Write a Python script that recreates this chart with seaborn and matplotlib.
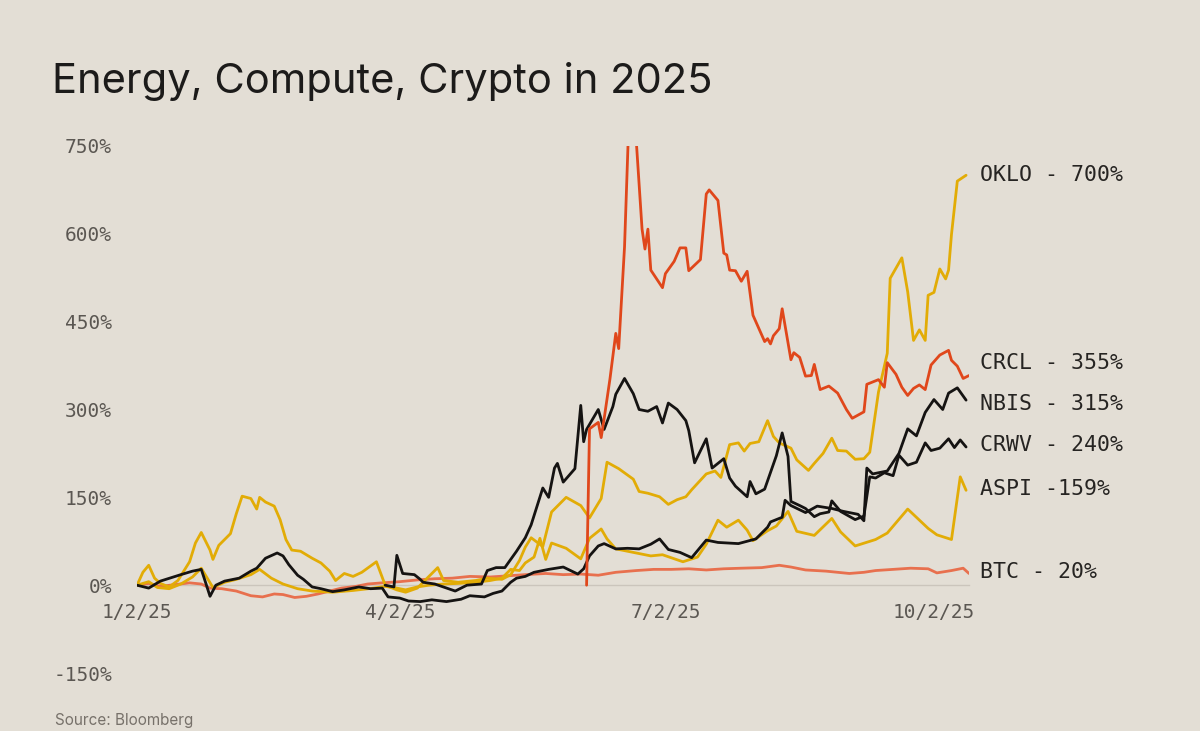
import matplotlib
matplotlib.use('Agg')
import matplotlib.pyplot as plt
import matplotlib.ticker as mticker
import matplotlib.transforms as mtransforms
import pandas as pd
import seaborn as sns

# ── Data (% change) ───────────────────────────────────────────────────────────
oklo_dates = ['01-02', '01-04', '01-06', '01-08', '01-10', '01-13', '01-16', '01-20', '01-22', '01-24',
              '01-27', '01-28', '01-30', '02-03', '02-05', '02-07', '02-10', '02-12', '02-13', '02-15',
              '02-18', '02-20', '02-22', '02-24', '02-27', '03-03', '03-06', '03-09', '03-11', '03-14',
              '03-17', '03-20', '03-25', '03-28', '04-01', '04-04', '04-08', '04-12', '04-15', '04-17',
              '04-22', '04-28', '05-02', '05-07', '05-10', '05-13', '05-15', '05-17', '05-21', '05-24',
              '05-29', '06-03', '06-06', '06-10', '06-12', '06-16', '06-21', '06-23', '06-26', '06-30',
              '07-03', '07-06', '07-09', '07-11', '07-16', '07-19', '07-21', '07-24', '07-27', '07-29',
              '07-31', '08-03', '08-06', '08-08', '08-10', '08-14', '08-16', '08-20', '08-22', '08-25',
              '08-28', '08-30', '09-02', '09-05', '09-08', '09-10', '09-13', '09-16', '09-17', '09-21',
              '09-23', '09-25', '09-27', '09-29', '09-30', '10-02', '10-04', '10-06', '10-07', '10-08',
              '10-10', '10-13']
oklo_vals = [0, 22, 34, 12, 3, -3, 8, 40, 72, 90,
             60, 44, 68, 88, 122, 152, 148, 130, 150, 142,
             135, 112, 78, 60, 58, 46, 38, 24, 8, 20,
             15, 22, 40, 0, -8, -12, -5, 15, 30, 8,
             5, 8, 12, 10, 18, 42, 65, 81, 66, 125,
             150, 136, 115, 148, 210, 199, 181, 160, 157, 151,
             138, 146, 151, 163, 190, 195, 184, 240, 243, 229,
             242, 245, 281, 254, 243, 234, 214, 196, 208, 225,
             251, 230, 229, 215, 216, 227, 330, 396, 524, 559,
             501, 418, 436, 418, 495, 500, 540, 523, 538, 599,
             690, 700]

aspi_dates = ['01-02', '01-06', '01-09', '01-13', '01-17', '01-21', '01-24', '01-28', '02-01', '02-05',
              '02-10', '02-13', '02-17', '02-21', '02-26', '03-03', '03-10', '03-17', '03-24', '03-28',
              '04-01', '04-04', '04-08', '04-12', '04-17', '04-22', '04-28', '05-03', '05-07', '05-10',
              '05-13', '05-15', '05-18', '05-20', '05-22', '05-24', '05-29', '06-03', '06-06', '06-10',
              '06-12', '06-15', '06-21', '06-27', '07-01', '07-08', '07-13', '07-16', '07-20', '07-23',
              '07-27', '07-30', '08-01', '08-06', '08-09', '08-13', '08-16', '08-22', '08-28', '08-31',
              '09-05', '09-12', '09-16', '09-23', '09-30', '10-03', '10-08', '10-11', '10-13']
aspi_vals = [0, 6, -4, -6, 2, 14, 29, -4, 5, 10,
             18, 27, 12, 2, -6, -10, -12, -9, -5, -2,
             -5, -8, -3, 0, 2, 3, 5, 8, 12, 27,
             25, 38, 48, 80, 44, 72, 63, 45, 80, 96,
             79, 62, 56, 50, 52, 40, 48, 70, 111, 99,
             111, 94, 76, 93, 101, 126, 92, 85, 114, 91,
             67, 78, 89, 130, 97, 86, 78, 185, 162]

nbis_dates = ['01-02', '01-06', '01-10', '01-17', '01-21', '01-24', '01-25', '01-27', '01-29', '02-01',
              '02-06', '02-10', '02-12', '02-15', '02-19', '02-21', '02-23', '02-26', '02-28', '03-03',
              '03-06', '03-10', '03-14', '03-19', '03-23', '03-27', '03-29', '04-02', '04-05', '04-09',
              '04-13', '04-18', '04-23', '04-26', '05-01', '05-04', '05-07', '05-10', '05-12', '05-15',
              '05-18', '05-23', '05-28', '06-02', '06-04', '06-06', '06-09', '06-11', '06-15', '06-19',
              '06-23', '06-27', '06-30', '07-03', '07-07', '07-11', '07-16', '07-20', '07-27', '08-02',
              '08-06', '08-07', '08-11', '08-12', '08-14', '08-19', '08-23', '08-28', '09-01', '09-06',
              '09-08', '09-09', '09-11', '09-16', '09-20', '09-23', '09-26', '09-29', '10-02', '10-05',
              '10-07', '10-10', '10-13']
nbis_vals = [0, -5, 7, 18, 24, 27, 12, -19, 0, 7,
             12, 24, 29, 46, 55, 50, 35, 17, 10, -3,
             -6, -11, -8, -3, -6, -5, -20, -22, -27, -28,
             -25, -28, -24, -18, -20, -14, -10, 5, 12, 15,
             22, 27, 31, 19, 28, 50, 67, 71, 62, 63,
             62, 70, 79, 61, 56, 47, 77, 73, 71, 79,
             99, 108, 116, 145, 136, 124, 135, 131, 126, 121,
             110, 200, 190, 195, 225, 267, 255, 295, 317, 300,
             328, 337, 316]

crwv_dates = ['03-28', '03-31', '04-01', '04-03', '04-07', '04-09', '04-10', '04-14', '04-21', '04-25',
              '04-30', '05-02', '05-05', '05-08', '05-12', '05-15', '05-17', '05-21', '05-23', '05-25',
              '05-26', '05-28', '06-01', '06-03', '06-04', '06-05', '06-09', '06-11', '06-14', '06-15',
              '06-18', '06-21', '06-23', '06-26', '06-29', '07-01', '07-03', '07-06', '07-09', '07-10',
              '07-12', '07-16', '07-18', '07-22', '07-24', '07-26', '07-30', '07-31', '08-02', '08-05',
              '08-09', '08-11', '08-13', '08-14', '08-17', '08-19', '08-22', '08-24', '08-27', '08-28',
              '08-31', '09-05', '09-08', '09-10', '09-12', '09-15', '09-18', '09-20', '09-23', '09-26',
              '09-29', '10-01', '10-04', '10-07', '10-09', '10-11', '10-13']
crwv_vals = [0, -3, 51, 20, 18, 10, 5, 2, -10, 0,
             2, 25, 30, 30, 58, 81, 103, 166, 150, 200,
             208, 176, 199, 307, 245, 266, 300, 266, 305, 326,
             353, 327, 300, 297, 305, 277, 311, 300, 281, 264,
             209, 250, 200, 216, 183, 169, 151, 177, 156, 164,
             221, 260, 220, 143, 136, 131, 117, 122, 125, 144,
             126, 112, 118, 185, 183, 192, 187, 222, 205, 210,
             243, 230, 234, 250, 235, 248, 236]

crcl_dates = ['06-05', '06-06', '06-09', '06-10', '06-11', '06-13', '06-15', '06-16', '06-18', '06-20',
              '06-22', '06-24', '06-25', '06-26', '06-27', '07-01', '07-02', '07-05', '07-07', '07-09',
              '07-10', '07-14', '07-16', '07-17', '07-20', '07-22', '07-23', '07-24', '07-26', '07-28',
              '07-30', '08-01', '08-05', '08-06', '08-07', '08-08', '08-10', '08-11', '08-14', '08-15',
              '08-17', '08-19', '08-21', '08-22', '08-24', '08-27', '08-30', '09-02', '09-04', '09-08',
              '09-09', '09-13', '09-15', '09-16', '09-19', '09-21', '09-23', '09-25', '09-27', '09-29',
              '10-01', '10-04', '10-07', '10-08', '10-10', '10-12', '10-14']
crcl_vals = [0, 267, 278, 252, 284, 352, 430, 404, 578, 870,
             760, 608, 574, 608, 538, 508, 532, 553, 576, 576,
             537, 556, 668, 675, 657, 567, 564, 538, 537, 519,
             536, 461, 416, 421, 412, 426, 438, 472, 385, 397,
             389, 357, 358, 377, 334, 340, 328, 300, 285, 296,
             343, 351, 338, 380, 360, 338, 324, 336, 342, 334,
             376, 393, 401, 384, 374, 353, 358]

btc_dates = ['01-02', '01-06', '01-10', '01-15', '01-20', '01-24', '01-27', '01-31', '02-05', '02-10',
             '02-14', '02-18', '02-21', '02-25', '03-01', '03-05', '03-09', '03-13', '03-18', '03-22',
             '03-27', '04-02', '04-08', '04-14', '04-20', '04-26', '05-03', '05-09', '05-15', '05-22',
             '05-28', '06-03', '06-09', '06-15', '06-22', '06-28', '07-04', '07-10', '07-16', '07-22',
             '07-28', '08-04', '08-10', '08-14', '08-19', '08-26', '09-03', '09-08', '09-12', '09-18',
             '09-24', '09-30', '10-03', '10-08', '10-12', '10-14']
btc_vals = [0, 3, -2, 1, 4, 2, -5, -6, -10, -18,
            -20, -15, -16, -21, -19, -15, -10, -5, -2, 2,
            4, 6, 9, 11, 12, 15, 14, 16, 18, 20,
            18, 19, 17, 22, 25, 27, 27, 28, 26, 28,
            29, 30, 34, 31, 26, 24, 20, 22, 25, 27,
            29, 28, 21, 25, 29, 20]

tickers = ['BTC', 'ASPI', 'OKLO', 'NBIS', 'CRWV', 'CRCL']
end_labels = ['BTC - 20%', 'ASPI -159%', 'OKLO - 700%', 'NBIS - 315%', 'CRWV - 240%', 'CRCL - 355%']
label_y = [22, 165, 700, 310, 240, 380]

x_ticks = ['2025-01-02', '2025-04-02', '2025-07-02', '2025-10-02']
x_tick_labels = ['1/2/25', '4/2/25', '7/2/25', '10/2/25']
y_ticks = [-150, 0, 150, 300, 450, 600, 750]

# ── Style ─────────────────────────────────────────────────────────────────────
BG = '#e3ded5'
COLORS = {'BTC': '#e8704e', 'ASPI': '#e2ac06', 'OKLO': '#e2ac06',
          'NBIS': '#151312', 'CRWV': '#151312', 'CRCL': '#e0471b'}
MONO = 'DejaVu Sans Mono'

sns.set_theme(style='white')
plt.rcParams.update({
    'figure.facecolor': BG,
    'axes.facecolor':   BG,
    'savefig.facecolor': BG,
    'font.family': [MONO],
})


def frame(name, dates, vals):
    return pd.DataFrame({'date': pd.to_datetime(['2025-' + d for d in dates]),
                         'pct': vals, 'ticker': name})


df = pd.concat([
    frame('BTC', btc_dates, btc_vals),
    frame('ASPI', aspi_dates, aspi_vals),
    frame('OKLO', oklo_dates, oklo_vals),
    frame('NBIS', nbis_dates, nbis_vals),
    frame('CRWV', crwv_dates, crwv_vals),
    frame('CRCL', crcl_dates, crcl_vals),
], ignore_index=True)

fig = plt.figure(figsize=(12, 7.31), dpi=100)
ax = fig.add_axes([0.1142, 0.0793, 0.6933, 0.721])

for t in tickers:
    sns.lineplot(data=df[df['ticker'] == t], x='date', y='pct', color=COLORS[t],
                 estimator=None, sort=False, linewidth=2.0, legend=False, ax=ax)

ax.set_xlim(pd.Timestamp('2025-01-02'), pd.Timestamp('2025-10-14'))
ax.set_ylim(-150, 750)

ax.set_xticks(pd.to_datetime(x_ticks))
ax.set_xticklabels(x_tick_labels)
ax.set_yticks(y_ticks)
ax.yaxis.set_major_formatter(mticker.FuncFormatter(lambda v, _: f'{v:.0f}%'))
ax.tick_params(axis='both', labelsize=14, labelcolor='#5b5752', length=0)
ax.tick_params(axis='x', pad=13)
ax.tick_params(axis='y', pad=18)
ax.set_xlabel('')
ax.set_ylabel('')

for s in ['top', 'right', 'left']:
    ax.spines[s].set_visible(False)
ax.spines['bottom'].set_position(('data', 0))
ax.spines['bottom'].set_color('#cbc5bc')
ax.spines['bottom'].set_linewidth(1.0)
ax.spines['bottom'].set_zorder(0)

# end-of-line labels
trans = mtransforms.blended_transform_factory(ax.transAxes, ax.transData)
for lab, yv in zip(end_labels, label_y):
    ax.text(1.013, yv, lab, transform=trans, ha='left', va='center',
            fontsize=15.5, family=MONO, color='#262422')

fig.text(0.043, 0.873, 'Energy, Compute, Crypto in 2025', fontsize=30,
         family=['Inter', 'DejaVu Sans'], color='#1c1b1a', va='baseline')
fig.text(0.046, 0.004, 'Source: Bloomberg', fontsize=11,
         family=['Inter', 'DejaVu Sans'], color='#77716a', va='bottom')

fig.savefig('out.png', dpi=100, facecolor=BG)
